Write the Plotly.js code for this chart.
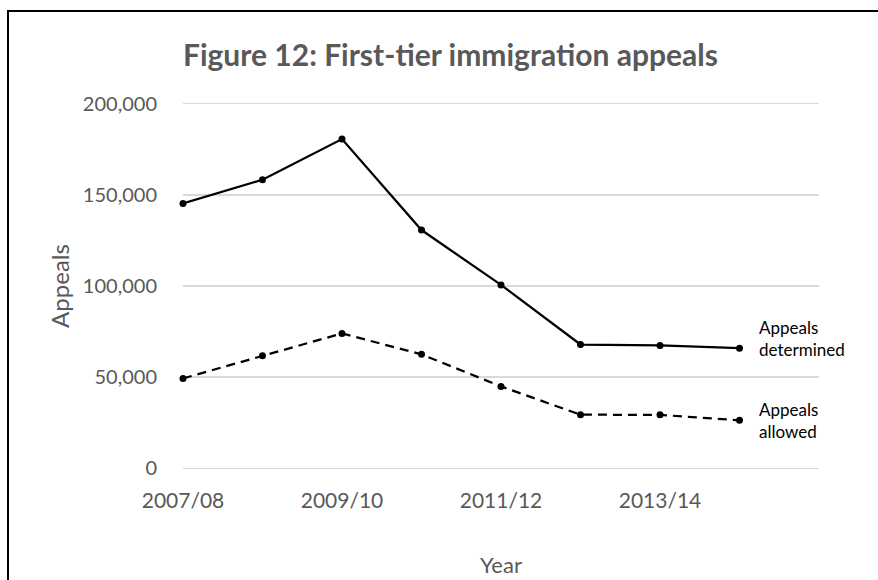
<!DOCTYPE html>
<html>
<head>
<meta charset="utf-8">
<script src="https://cdn.plot.ly/plotly-3.0.1.min.js"></script>
<style>
  html, body { margin: 0; padding: 0; background: #fff; }
  #wrap { position: relative; width: 878px; height: 580px; overflow: hidden; }
  #chart { width: 878px; height: 580px; }
  #frame { position: absolute; left: 7px; top: 10px; width: 900px; height: 600px;
           border-left: 2px solid #000; border-top: 2px solid #000; pointer-events: none; }
</style>
</head>
<body>
<div id="wrap"><div id="chart"></div><div id="frame"></div></div>
<script>
const years = ['2007/08','2008/09','2009/10','2010/11','2011/12','2012/13','2013/14','2014/15'];
const tickYears = ['2007/08','2009/10','2011/12','2013/14'];
const determined = [145300, 158300, 180600, 130700, 100600, 67900, 67400, 65900];
const allowed = [49300, 61700, 74000, 62500, 44900, 29400, 29300, 26300];
const seriesNames = ['Appeals<br>determined', 'Appeals<br>allowed'];

const txt = '#595959';
const font = 'Lato, "Open Sans", sans-serif';

const traces = [
  { x: years, y: determined, type: 'scatter', mode: 'lines+markers', name: 'Appeals determined',
    cliponaxis: false,
    line: { color: '#000', width: 2.25 }, marker: { color: '#000', size: 7 }, hoverinfo: 'x+y' },
  { x: years, y: allowed, type: 'scatter', mode: 'lines+markers', name: 'Appeals allowed',
    cliponaxis: false,
    line: { color: '#000', width: 2.25, dash: '9px,6px' }, marker: { color: '#000', size: 7 }, hoverinfo: 'x+y' }
];

const layout = {
  width: 878, height: 580,
  margin: { l: 183, r: 59, t: 101, b: 109 },
  paper_bgcolor: '#fff', plot_bgcolor: '#fff',
  showlegend: false,
  font: { family: font, color: txt, size: 20 },
  title: { text: '<b>Figure 12: First-tier immigration appeals</b>',
           font: { family: font, size: 30, color: txt },
           x: 0.513, xanchor: 'center', y: 0.905, yanchor: 'middle' },
  xaxis: {
    type: 'category', categoryorder: 'array', categoryarray: years,
    range: [0, 8], tickmode: 'array', tickvals: tickYears, ticktext: tickYears,
    showgrid: false, zeroline: false, showline: false,
    ticks: 'outside', ticklen: 11, tickcolor: 'rgba(0,0,0,0)',
    tickfont: { family: font, size: 21, color: txt },
    title: { text: 'Year', font: { family: font, size: 22, color: txt }, standoff: 46 }
  },
  yaxis: {
    range: [-1500, 201500], tickvals: [0, 50000, 100000, 150000, 200000],
    tickformat: ',d', showgrid: true, gridcolor: '#d9d9d9', gridwidth: 1.5,
    zeroline: false, showline: false,
    ticks: 'outside', ticklen: 21, tickcolor: 'rgba(0,0,0,0)',
    tickfont: { family: font, size: 20, color: txt },
    title: { text: 'Appeals', font: { family: font, size: 24, color: txt }, standoff: 6 }
  },
  annotations: [
    { x: years[years.length-1], y: determined[determined.length-1], xref: 'x', yref: 'y',
      text: seriesNames[0], showarrow: false, xanchor: 'left', yanchor: 'middle', align: 'left',
      xshift: 17, yshift: 10, font: { family: font, size: 17, color: '#000' } },
    { x: years[years.length-1], y: allowed[allowed.length-1], xref: 'x', yref: 'y',
      text: seriesNames[1], showarrow: false, xanchor: 'left', yanchor: 'middle', align: 'left',
      xshift: 17, yshift: 0, font: { family: font, size: 17, color: '#000' } }
  ]
};

Plotly.newPlot('chart', traces, layout, { displayModeBar: false, staticPlot: true });
</script>
</body>
</html>
